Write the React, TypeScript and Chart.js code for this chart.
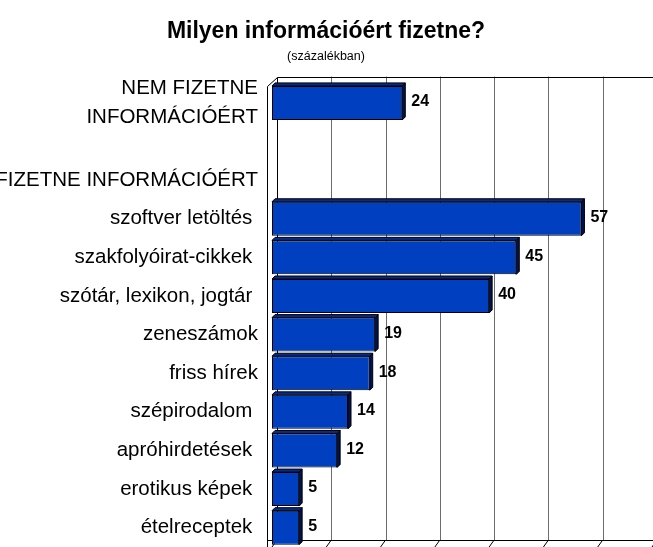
import { useEffect, useRef } from "react";
import { Chart, registerables } from "chart.js";

Chart.register(...registerables);

// ---- data ----
const categories: (string | string[])[] = [
  ["NEM FIZETNE", "INFORMÁCIÓÉRT"],
  "",
  "FIZETNE INFORMÁCIÓÉRT",
  "szoftver letöltés ",
  "szakfolyóirat-cikkek ",
  "szótár, lexikon, jogtár ",
  "zeneszámok",
  "friss hírek",
  "szépirodalom ",
  "apróhirdetések ",
  "erotikus képek ",
  "ételreceptek ",
];
const values: (number | null)[] = [24, null, null, 57, 45, 40, 19, 18, 14, 12, 5, 5];
const axisMin = 0;
const axisMax = 70;
const axisStep = 10;
const titleText = "Milyen információért fizetne?";
const subtitleText = "(százalékban)";

const FONT = "'Liberation Sans', Arial, sans-serif";
const DX = 5;
const DY = 7;
const DEPTH = 3;

const wallsPlugin = {
  id: "walls3d",
  beforeDatasetsDraw(chart: any) {
    const { ctx, chartArea: a, scales } = chart;
    const x = scales.x;
    const L = a.left;
    const W = chart.width;
    const cr = (v: number) => Math.round(v) + 0.5;
    ctx.save();
    ctx.lineWidth = 1;
    // back-wall grid lines
    ctx.strokeStyle = "#6b6b6b";
    for (let v = axisMin + axisStep; v <= axisMax; v += axisStep) {
      const px = cr(x.getPixelForValue(v) + DX);
      if (px > W) continue;
      ctx.beginPath();
      ctx.moveTo(px, a.top - DY);
      ctx.lineTo(px, a.bottom - DY);
      ctx.stroke();
    }
    ctx.strokeStyle = "#000";
    // back wall top
    ctx.beginPath();
    ctx.moveTo(cr(L + DX), cr(a.top - DY));
    ctx.lineTo(W, cr(a.top - DY));
    ctx.stroke();
    // back-left vertical
    ctx.beginPath();
    ctx.moveTo(cr(L + DX), cr(a.top - DY));
    ctx.lineTo(cr(L + DX), cr(a.bottom - DY));
    ctx.stroke();
    // front-left vertical
    ctx.beginPath();
    ctx.moveTo(cr(L - DX), cr(a.top + 2));
    ctx.lineTo(cr(L - DX), a.bottom);
    ctx.stroke();
    // top-left diagonal
    ctx.beginPath();
    ctx.moveTo(cr(L - DX), cr(a.top + 2));
    ctx.lineTo(cr(L + DX), cr(a.top - DY));
    ctx.stroke();
    // floor back edge
    ctx.beginPath();
    ctx.moveTo(cr(L - DX), cr(a.bottom - DY));
    ctx.lineTo(W, cr(a.bottom - DY));
    ctx.stroke();
    // floor tick slashes
    for (let v = axisMin; v <= axisMax; v += axisStep) {
      const px = x.getPixelForValue(v);
      ctx.beginPath();
      ctx.moveTo(px, a.bottom);
      ctx.lineTo(px + DX, a.bottom - DY);
      ctx.stroke();
    }
    ctx.restore();
  },
  afterDatasetsDraw(chart: any) {
    const { ctx } = chart;
    const meta = chart.getDatasetMeta(0);
    ctx.save();
    ctx.lineWidth = 1;
    ctx.strokeStyle = "#000";
    meta.data.forEach((el: any, i: number) => {
      const v = values[i];
      if (v === null || v === undefined) return;
      const { x: xe, y, base, height } = el.getProps(["x", "y", "base", "height"], true);
      const top = y - height / 2;
      const bot = y + height / 2;
      // right face
      ctx.fillStyle = "#001252";
      ctx.beginPath();
      ctx.moveTo(xe, top);
      ctx.lineTo(xe + DEPTH, top - DEPTH);
      ctx.lineTo(xe + DEPTH, bot - DEPTH);
      ctx.lineTo(xe, bot);
      ctx.closePath();
      ctx.fill();
      ctx.stroke();
      // top face
      ctx.fillStyle = "#0a2a8a";
      ctx.beginPath();
      ctx.moveTo(base, top);
      ctx.lineTo(base + DEPTH, top - DEPTH);
      ctx.lineTo(xe + DEPTH, top - DEPTH);
      ctx.lineTo(xe, top);
      ctx.closePath();
      ctx.fill();
      ctx.stroke();
      // value label
      ctx.fillStyle = "#000";
      ctx.font = `bold 16px ${FONT}`;
      ctx.textAlign = "left";
      ctx.textBaseline = "middle";
      ctx.fillText(String(v), xe + DEPTH + 6, y - 1);
    });
    ctx.restore();
  },
};

export default function App() {
  const ref = useRef<HTMLCanvasElement | null>(null);
  useEffect(() => {
    document.body.style.margin = "0";
    const canvas = ref.current;
    if (!canvas) return;
    const chart = new Chart(canvas, {
      type: "bar",
      data: {
        labels: categories as any,
        datasets: [
          {
            data: values as any,
            backgroundColor: "#0040c0",
            borderColor: "#000",
            borderWidth: 1,
            borderSkipped: false,
            barPercentage: 0.88,
            categoryPercentage: 1,
          },
        ],
      },
      options: {
        indexAxis: "y",
        animation: false,
        responsive: false,
        devicePixelRatio: 1,
        layout: { padding: { left: 0, right: 1, top: 0, bottom: 0 }, autoPadding: false } as any,
        plugins: {
          legend: { display: false },
          tooltip: { enabled: false },
          title: {
            display: true,
            text: titleText,
            color: "#000",
            font: { family: FONT, size: 23, weight: "bold" },
            padding: { top: 18, bottom: 3 },
          },
          subtitle: {
            display: true,
            text: subtitleText,
            color: "#000",
            font: { family: FONT, size: 12.5, weight: "normal" },
            padding: { top: 0, bottom: 20 },
          },
        },
        scales: {
          x: {
            type: "linear",
            min: axisMin,
            max: axisMax,
            display: false,
            ticks: { stepSize: axisStep },
          },
          y: {
            type: "category",
            grid: { display: false, drawTicks: false },
            border: { display: false },
            ticks: {
              color: "#000",
              padding: 14,
              autoSkip: false,
              font: { family: FONT, size: 20.5, lineHeight: 1.45 },
            },
            afterFit: (scale: any) => {
              scale.width = 272;
              scale.paddingTop = 0;
              scale.paddingBottom = 0;
            },
          },
        },
      } as any,
      plugins: [wallsPlugin],
    });
    return () => chart.destroy();
  }, []);
  return <canvas ref={ref} width={653} height={547} style={{ display: "block" }} />;
}
